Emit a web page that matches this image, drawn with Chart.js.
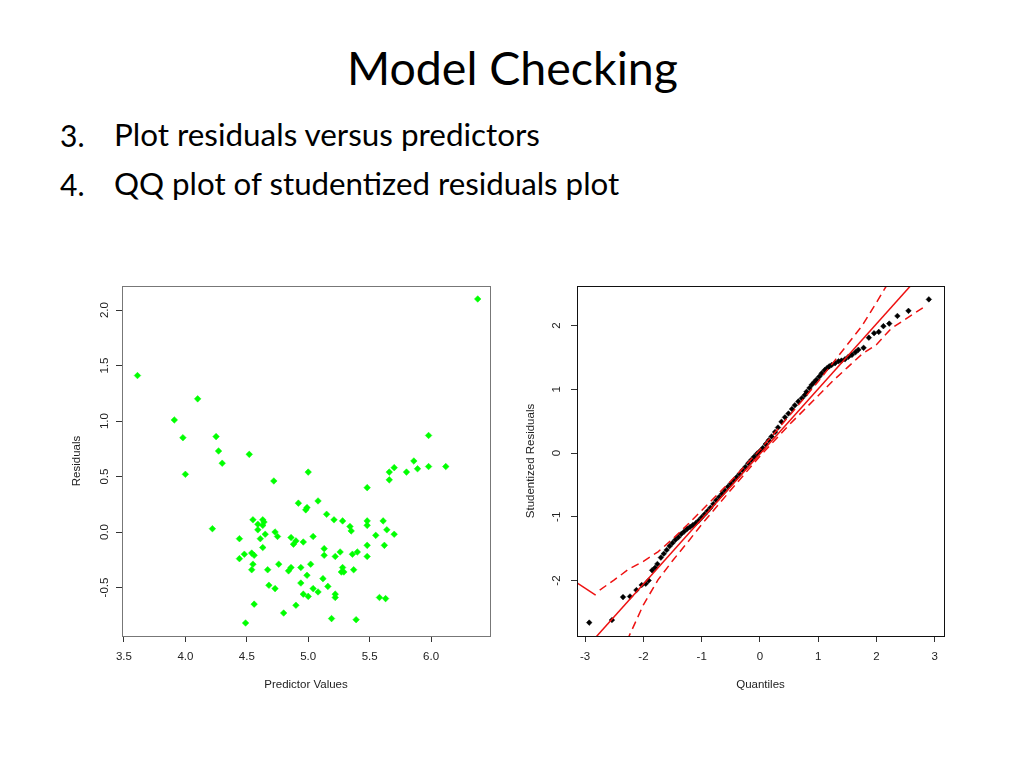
<!DOCTYPE html>
<html>
<head>
<meta charset="utf-8">
<script src="https://cdn.jsdelivr.net/npm/chart.js@4/dist/chart.umd.min.js"></script>
<style>
  body { margin: 0; background: #fff; width: 1024px; height: 768px; position: relative; overflow: hidden; font-family: Lato, "Open Sans", sans-serif; color: #000; }
  .txt { position: absolute; white-space: nowrap; line-height: 1; }
  canvas { position: absolute; }
</style>
</head>
<body>
<div class="txt" id="title" data-x="347" data-base="85" data-w="331">Model Checking</div>
<div class="txt" id="n3" data-x="60" data-base="147" data-size="30">3.</div>
<div class="txt" id="l3" data-x="114" data-base="147" data-w="427">Plot residuals versus predictors</div>
<div class="txt" id="n4" data-x="60" data-base="196" data-size="30">4.</div>
<div class="txt" id="l4" data-x="114" data-base="196" data-w="506">QQ plot of studentized residuals plot</div>
<canvas id="resid" width="440" height="430" style="left:60px;top:270px"></canvas>
<canvas id="qq" width="440" height="430" style="left:520px;top:270px"></canvas>
<script>
// residuals vs predictor values
const predX = [3.61,4.10,3.91,3.98,4.25,4.27,4.52,4.30,4.00,5.00,4.72,4.92,5.08,4.98,4.99,4.22,4.55,4.63,4.64,4.63,
  4.59,4.59,4.65,4.61,4.44,4.73,4.75,4.86,4.90,4.88,4.96,5.04,4.63,4.54,4.56,4.48,4.44,4.55,4.54,4.67,
  4.76,4.86,4.84,4.94,5.02,4.99,4.68,4.73,4.94,5.04,4.96,5.00,5.08,4.56,4.90,4.80,4.49,5.98,5.86,5.98,
  6.12,5.89,5.70,5.66,5.80,5.66,5.48,5.15,5.21,5.28,5.34,5.35,5.48,5.48,5.61,5.64,5.70,5.55,5.48,5.62,
  5.13,5.13,5.22,5.26,5.36,5.40,5.48,5.28,5.27,5.29,5.37,5.12,5.16,5.22,5.22,5.58,5.63,5.19,5.39,6.38];
const residY = [1.41,1.20,1.01,0.85,0.86,0.73,0.70,0.62,0.52,0.54,0.46,0.26,0.28,0.20,0.22,0.03,0.11,0.11,0.09,0.06,
  0.07,0.02,-0.02,-0.06,-0.06,0.00,-0.04,-0.05,-0.08,-0.11,-0.09,-0.04,-0.14,-0.19,-0.21,-0.20,-0.24,-0.29,-0.34,-0.34,
  -0.29,-0.32,-0.35,-0.32,-0.29,-0.39,-0.48,-0.51,-0.46,-0.51,-0.56,-0.58,-0.54,-0.65,-0.66,-0.73,-0.82,0.87,0.64,0.59,
  0.59,0.57,0.58,0.54,0.54,0.47,0.40,0.16,0.11,0.10,0.05,0.01,0.10,0.06,0.10,0.02,-0.02,-0.03,-0.12,-0.12,
  -0.15,-0.21,-0.22,-0.18,-0.20,-0.18,-0.22,-0.32,-0.36,-0.36,-0.34,-0.42,-0.49,-0.56,-0.59,-0.59,-0.60,-0.78,-0.79,2.10];
const residXTicks = [3.5, 4.0, 4.5, 5.0, 5.5, 6.0];
const residYTicks = [-0.5, 0.0, 0.5, 1.0, 1.5, 2.0];

// QQ plot: normal quantiles vs studentized residuals
const quantX = [-2.93,-2.54,-2.35,-2.23,-2.12,-2.03,-1.96,-1.91,-1.85,-1.80,-1.76,-1.70,-1.65,-1.60,-1.55,-1.50,-1.45,-1.40,-1.35,-1.30,
  -1.25,-1.20,-1.15,-1.10,-1.05,-1.00,-0.95,-0.90,-0.85,-0.80,-0.75,-0.70,-0.65,-0.60,-0.55,-0.50,-0.45,-0.40,-0.35,-0.30,
  -0.25,-0.20,-0.15,-0.10,-0.05,0.00,0.05,0.10,0.15,0.20,0.26,0.31,0.37,0.43,0.49,0.55,0.60,0.66,0.72,0.77,
  0.80,0.85,0.89,0.93,0.97,1.02,1.06,1.11,1.15,1.19,1.23,1.29,1.35,1.40,1.46,1.52,1.58,1.64,1.69,1.78,
  1.87,1.96,2.04,2.12,2.22,2.36,2.55,2.90];
const studY = [-2.66,-2.62,-2.26,-2.25,-2.15,-2.07,-2.05,-2.00,-1.84,-1.80,-1.74,-1.64,-1.58,-1.52,-1.46,-1.41,-1.36,-1.32,-1.27,-1.23,
  -1.19,-1.16,-1.13,-1.10,-1.06,-1.01,-0.96,-0.91,-0.86,-0.80,-0.74,-0.69,-0.64,-0.59,-0.53,-0.48,-0.43,-0.38,-0.33,-0.27,
  -0.22,-0.16,-0.11,-0.06,-0.01,0.03,0.08,0.14,0.20,0.26,0.33,0.40,0.49,0.56,0.62,0.69,0.75,0.81,0.86,0.91,
  0.96,1.02,1.07,1.11,1.15,1.20,1.25,1.30,1.33,1.36,1.38,1.41,1.44,1.45,1.47,1.51,1.54,1.58,1.62,1.65,
  1.81,1.88,1.90,1.99,2.03,2.15,2.23,2.41];
const refLineX = [-3.2, 3.2];
const refLineY = [-3.28, 3.25];
const upperX = [-2.75,-2.5,-2.25,-2.0,-1.75,-1.5,-1.25,-1.0,-0.5,0.0,0.5,1.0,1.25,1.5,1.75,2.0,2.25,2.5];
const upperY = [-2.15,-1.99,-1.82,-1.70,-1.55,-1.35,-1.13,-0.90,-0.44,0.05,0.58,1.12,1.41,1.70,1.99,2.36,2.74,3.09];
const lowerX = [-2.5,-2.25,-2.0,-1.75,-1.5,-1.25,-1.0,-0.5,0.0,0.5,1.0,1.25,1.5,1.75,2.0,2.25,2.5,2.8];
const lowerY = [-3.30,-2.88,-2.38,-1.99,-1.69,-1.41,-1.12,-0.58,-0.05,0.44,0.90,1.13,1.34,1.55,1.70,1.95,2.10,2.28];
const tailX = [-3.2, -2.82];
const tailY = [-2.00, -2.23];
const qqXTicks = [-3, -2, -1, 0, 1, 2, 3];
const qqYTicks = [-2, -1, 0, 1, 2];

const pts = (xs, ys) => xs.map((x, i) => ({ x: x, y: ys[i] }));

// page text, sized to the widths measured on the slide
const mctx = document.createElement('canvas').getContext('2d');
document.querySelectorAll('.txt').forEach(el => {
  let size = +el.dataset.size || 40;
  if (el.dataset.w) {
    mctx.font = '40px Lato';
    size = 40 * (+el.dataset.w) / mctx.measureText(el.textContent).width;
  }
  el.style.fontSize = size + 'px';
  el.style.left = el.dataset.x + 'px';
  el.style.top = (+el.dataset.base - 0.887 * size) + 'px';
});

// box round the plot + rotated y tick labels (R style)
const frame = {
  id: 'frame',
  afterDraw(chart, args, opts) {
    const { ctx, chartArea: a } = chart;
    const ys = chart.scales.y;
    ctx.save();
    ctx.strokeStyle = opts.color;
    ctx.lineWidth = 1;
    ctx.strokeRect(Math.round(a.left) + 0.5, Math.round(a.top) + 0.5, Math.round(a.right - a.left), Math.round(a.bottom - a.top));
    ctx.fillStyle = '#222';
    ctx.font = '11.5px "Liberation Sans"';
    ctx.textAlign = 'center';
    ctx.textBaseline = 'middle';
    opts.ticks.forEach(v => {
      ctx.save();
      ctx.translate(opts.labelX, ys.getPixelForValue(v));
      ctx.rotate(-Math.PI / 2);
      ctx.fillText(opts.fmt(v), 0, 0);
      ctx.restore();
    });
    ctx.restore();
  }
};

function axes(xmin, xmax, ymin, ymax, xticks, yticks, xtitle, ytitle, fmt, yw, ytitlePad) {
  const font = { family: 'Liberation Sans', size: 11.5 };
  return {
    x: {
      type: 'linear', min: xmin, max: xmax,
      afterBuildTicks: s => { s.ticks = xticks.map(v => ({ value: v })); },
      afterFit: s => { s.height = 64; },
      ticks: { callback: v => fmt(v), font: font, color: '#222', padding: 8, maxRotation: 0, autoSkip: false },
      grid: { drawOnChartArea: false, tickLength: 6, color: '#333' },
      border: { display: false },
      title: { display: true, text: xtitle, font: font, color: '#222', padding: { top: 0, bottom: 8 } }
    },
    y: {
      type: 'linear', min: ymin, max: ymax,
      afterBuildTicks: s => { s.ticks = yticks.map(v => ({ value: v })); },
      afterFit: s => { s.width = yw; },
      ticks: { display: false },
      grid: { drawOnChartArea: false, tickLength: 6, color: '#333' },
      border: { display: false },
      title: { display: true, text: ytitle, font: font, color: '#222', padding: { top: ytitlePad, bottom: 0 } }
    }
  };
}

new Chart(document.getElementById('resid'), {
  type: 'scatter',
  data: {
    datasets: [{
      label: 'Residuals',
      data: pts(predX, residY),
      pointStyle: 'rectRot',
      pointRadius: 3.3,
      backgroundColor: '#00ff00',
      borderColor: '#00ff00',
      borderWidth: 0.5
    }]
  },
  options: {
    responsive: false,
    animation: false,
    layout: { padding: { top: 16, right: 10, left: 0, bottom: 0 } },
    scales: axes(3.484, 6.48, -0.937, 2.217, residXTicks, residYTicks, 'Predictor Values', 'Residuals', v => v.toFixed(1), 62, 10),
    plugins: {
      legend: { display: false },
      tooltip: { enabled: false },
      frame: { color: '#777', labelX: 45, ticks: residYTicks, fmt: v => v.toFixed(1) }
    }
  },
  plugins: [frame]
});

const red = '#ee1111';
new Chart(document.getElementById('qq'), {
  type: 'scatter',
  data: {
    datasets: [
      { data: pts(refLineX, refLineY), showLine: true, borderColor: red, borderWidth: 1.5, pointRadius: 0, clip: 0 },
      { data: pts(upperX, upperY), showLine: true, borderColor: red, borderWidth: 1.5, borderDash: [8, 5], pointRadius: 0, clip: 0 },
      { data: pts(lowerX, lowerY), showLine: true, borderColor: red, borderWidth: 1.5, borderDash: [8, 5], pointRadius: 0, clip: 0 },
      { data: pts(tailX, tailY), showLine: true, borderColor: red, borderWidth: 1.5, pointRadius: 0, clip: 0 },
      {
        data: pts(quantX, studY),
        pointStyle: 'rectRot',
        pointRadius: 2.8,
        backgroundColor: '#000',
        borderColor: '#000',
        borderWidth: 0.5
      }
    ]
  },
  options: {
    responsive: false,
    animation: false,
    layout: { padding: { top: 16, right: 16, left: 0, bottom: 0 } },
    scales: axes(-3.14, 3.16, -2.87, 2.62, qqXTicks, qqYTicks, 'Quantiles', 'Studentized Residuals', v => String(v), 57, 4),
    plugins: {
      legend: { display: false },
      tooltip: { enabled: false },
      frame: { color: '#111', labelX: 37, ticks: qqYTicks, fmt: v => String(v) }
    }
  },
  plugins: [frame]
});
</script>
</body>
</html>
